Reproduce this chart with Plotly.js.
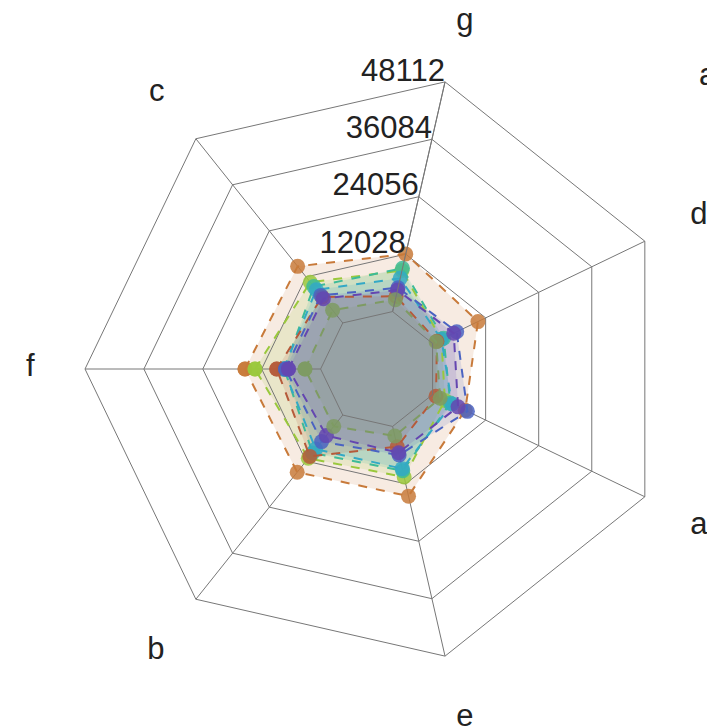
<!DOCTYPE html>
<html>
<head>
<meta charset="utf-8">
<script src="https://cdn.plot.ly/plotly-3.0.1.min.js"></script>
<style>html,body{margin:0;padding:0;background:#fff;}#chart{width:707px;height:726px;}</style>
</head>
<body>
<div id="chart"></div>
<script>
// categories in angular order (clockwise starting at the left)
const categories = ['f', 'c', 'g', 'd', 'a', 'e', 'b'];
const radialTicks = [12028, 24056, 36084, 48112];
const radialTickAxisCategory = 'g';

// series values, order as categories
const sOrange      = [15440, 14790, 12070, 10290, 7400, 14600, 14930];
const sYellowGreen = [13400, 10640, 8600, 2000, 2800, 10600, 11300];
const sTealGreen   = [7400, 9500, 9070, 2500, 4020, 9300, 9900];
const sCyan        = [7580, 8680, 6960, 2000, 4400, 8850, 8880];
const sBrownRed    = [8960, 6800, 3200, 1000, 780, 4250, 10800];
const sBlue        = [7170, 7200, 5000, 5470, 7900, 6000, 6930];
const sPurple      = [6560, 6350, 4510, 4800, 5780, 5500, 5370];
const sOlive       = [3190, 3340, 2500, 800, 1720, 2000, 2960];

const seriesNames = ['s1', 's2', 's3', 's4', 's5', 's6', 's7', 's8'];
const seriesData = [sOrange, sYellowGreen, sTealGreen, sCyan, sBrownRed, sBlue, sPurple, sOlive];
const seriesColors = [
  [200, 122, 58], [154, 200, 60], [61, 187, 152], [51, 169, 198],
  [181, 90, 58], [74, 99, 194], [100, 70, 176], [126, 155, 99]
];

const closed = arr => arr.concat([arr[0]]);
const FS = 31;
const FONT = 'Arial, "Liberation Sans", sans-serif';
const big = s => '<span style="font-size:' + FS + 'px">' + s + '</span>';
const rMax = radialTicks[radialTicks.length - 1];
const hole = 0.2;

// fills are drawn in a hole-less polar underneath (same radius mapping),
// lines and markers in the polar with the hole on top
const fillTraces = seriesData.map((vals, i) => ({
  type: 'scatterpolar',
  subplot: 'polar',
  name: seriesNames[i],
  r: closed(vals),
  theta: closed(categories),
  mode: 'none',
  fill: 'toself',
  fillcolor: 'rgba(' + seriesColors[i].join(',') + ',0.15)',
  hoverinfo: 'skip',
  showlegend: false
}));

const lineTraces = seriesData.map((vals, i) => {
  const rgb = 'rgb(' + seriesColors[i].join(',') + ')';
  return {
    type: 'scatterpolar',
    subplot: 'polar2',
    name: seriesNames[i],
    r: closed(vals),
    theta: closed(categories),
    mode: 'lines+markers',
    line: {color: rgb, width: 2, dash: 'dash'},
    marker: {color: rgb, size: 15, opacity: 0.85},
    showlegend: false
  };
});

// radial tick labels, placed at the tick values on the radial axis spoke
const radialLabelTrace = {
  type: 'scatterpolar',
  subplot: 'polar2',
  r: radialTicks,
  theta: radialTicks.map(() => radialTickAxisCategory),
  mode: 'text',
  text: radialTicks.map(v => big(String(v))),
  textposition: 'top left',
  textfont: {size: 5, color: '#222', family: FONT},
  cliponaxis: false,
  hoverinfo: 'skip',
  showlegend: false
};

const W = 707, H = 726;
const cx = 379.5, cy = 369, R = 294.5;
const rMinNoHole = -rMax * hole / (1 - hole);
const domain = {x: [(cx - R) / W, (cx + R) / W], y: [(H - cy - R) / H, (H - cy + R) / H]};

const layout = {
  width: W, height: H,
  margin: {l: 0, r: 0, t: 0, b: 0},
  paper_bgcolor: '#fff',
  font: {family: FONT, size: FS, color: '#222'},
  showlegend: false,
  polar: {
    domain: domain,
    bgcolor: 'rgba(0,0,0,0)',
    gridshape: 'linear',
    angularaxis: {
      type: 'category', categoryarray: categories,
      direction: 'clockwise', rotation: 180,
      showline: false, showgrid: false, showticklabels: false, ticks: ''
    },
    radialaxis: {
      range: [rMinNoHole, rMax], visible: false,
      showline: false, showgrid: false, showticklabels: false, ticks: ''
    }
  },
  polar2: {
    domain: domain,
    bgcolor: 'rgba(0,0,0,0)',
    hole: hole,
    gridshape: 'linear',
    angularaxis: {
      type: 'category', categoryarray: categories,
      direction: 'clockwise', rotation: 180,
      tickmode: 'array', tickvals: categories, ticktext: categories.map(big),
      showline: true, linecolor: '#777', linewidth: 1,
      gridcolor: '#777', gridwidth: 1,
      ticks: 'outside', ticklen: 46, tickcolor: 'rgba(0,0,0,0)',
      tickfont: {size: 20, color: '#222', family: FONT}
    },
    radialaxis: {
      range: [0, rMax],
      tickvals: radialTicks,
      showticklabels: false,
      angle: 77.142857,
      showline: true, linecolor: '#777',
      gridcolor: '#777', gridwidth: 1,
      ticks: ''
    }
  },
  annotations: [{
    text: 'a', xref: 'paper', yref: 'paper',
    x: 697 / W, y: 1 - 75 / H, xanchor: 'left', yanchor: 'middle',
    showarrow: false, font: {size: FS, color: '#222'}
  }]
};

Plotly.newPlot('chart', fillTraces.concat(lineTraces, [radialLabelTrace]), layout, {displayModeBar: false});
</script>
</body>
</html>
